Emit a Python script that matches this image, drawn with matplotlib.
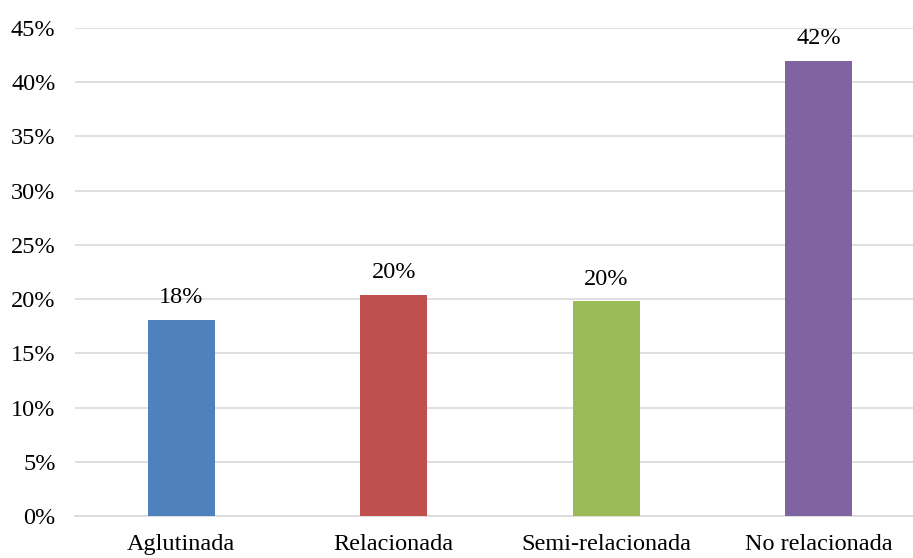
import matplotlib
matplotlib.use("Agg")
import matplotlib.pyplot as plt
from matplotlib.ticker import FuncFormatter

categories = ["Aglutinada", "Relacionada", "Semi-relacionada", "No relacionada"]
values = [18.1, 20.4, 19.8, 42.0]
value_labels = ["18%", "20%", "20%", "42%"]
colors = ["#4F81BD", "#C0504D", "#9BBB59", "#8064A2"]

plt.rcParams["font.family"] = ["Liberation Serif", "DejaVu Serif"]

fig = plt.figure(figsize=(9.13, 5.58), dpi=100)
# axes runs a bit past the right edge, as in the original
ax = fig.add_axes([75 / 913, 42 / 558, 850 / 913, 488 / 558])

x = range(len(categories))
bars = ax.bar(x, values, width=0.315, color=colors, zorder=3)

for b, lab in zip(bars, value_labels):
    ax.annotate(lab, (b.get_x() + b.get_width() / 2, b.get_height()),
                xytext=(0, 12), textcoords="offset points",
                ha="center", va="baseline", fontsize=17.5)

ax.set_xlim(-0.5, 3.5)
ax.set_ylim(0, 45)
ax.set_yticks(range(0, 46, 5))
ax.yaxis.set_major_formatter(FuncFormatter(lambda v, p: f"{v:.0f}%"))
ax.set_xticks(list(x))
ax.set_xticklabels(categories)

ax.grid(axis="y", color="#D9D9D9", linewidth=1.2, zorder=0)
for s in ["top", "right", "left"]:
    ax.spines[s].set_visible(False)
ax.spines["bottom"].set_color("#D9D9D9")
ax.spines["bottom"].set_linewidth(1.2)
ax.tick_params(axis="both", length=0, labelsize=17.5)
ax.tick_params(axis="y", pad=14)
ax.tick_params(axis="x", pad=13)

fig.savefig("out.png", dpi=100)
plt.close(fig)
